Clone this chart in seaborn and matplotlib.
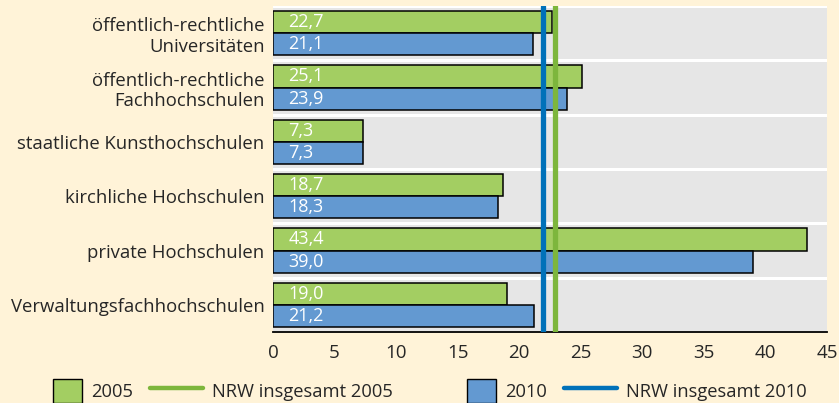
import numpy as np
import pandas as pd
import matplotlib
matplotlib.use('Agg')
import matplotlib.pyplot as plt
import seaborn as sns
from matplotlib.patches import Patch
from matplotlib.lines import Line2D

# Data
categories = ['öffentlich-rechtliche\nUniversitäten',
              'öffentlich-rechtliche\nFachhochschulen',
              'staatliche Kunsthochschulen',
              'kirchliche Hochschulen',
              'private Hochschulen',
              'Verwaltungsfachhochschulen']
values_2005 = [22.7, 25.1, 7.3, 18.7, 43.4, 19.0]
values_2010 = [21.1, 23.9, 7.3, 18.3, 39.0, 21.2]
nrw_2005 = 22.9
nrw_2010 = 21.9
xticks = [0, 5, 10, 15, 20, 25, 30, 35, 40, 45]

green = '#A3CE62'
blue = '#6399D1'
line_green = '#7DB63C'
line_blue = '#0071B9'
cream = '#FFF3D8'

df = pd.DataFrame({
    'Hochschulart': categories * 2,
    'Wert': values_2005 + values_2010,
    'Jahr': ['2005'] * len(categories) + ['2010'] * len(categories),
})

sns.set_style('white')
plt.rcParams['font.family'] = ['Open Sans', 'DejaVu Sans']

fig = plt.figure(figsize=(8.39, 4.03), dpi=100, facecolor=cream)
ax = fig.add_axes([273 / 839, 1 - 332 / 403, (827 - 273) / 839, (332 - 6) / 403])
ax.set_facecolor('#E6E6E6')

sns.barplot(data=df, y='Hochschulart', x='Wert', hue='Jahr', orient='h',
            palette=[green, blue], width=0.82, edgecolor='black',
            linewidth=1.1, saturation=1, legend=False, ax=ax, zorder=2)

# white separators between category bands
for b in np.arange(-0.5, len(categories) + 0.5, 1):
    ax.axhline(b, color='white', lw=2.2, zorder=1)

# value labels inside the bars
for cont in ax.containers:
    for bar in cont:
        w = bar.get_width()
        ax.annotate(f'{w:.1f}'.replace('.', ','),
                    (0, bar.get_y() + bar.get_height() / 2),
                    xytext=(11, 0), textcoords='offset points',
                    ha='left', va='center', color='white', fontsize=13,
                    zorder=4)

ax.axvline(nrw_2010, color=line_blue, lw=3.8, zorder=3)
ax.axvline(nrw_2005, color=line_green, lw=3.8, zorder=3)

ax.set_xlim(0, 45)
ax.set_ylim(len(categories) - 0.5, -0.5)
ax.set_xticks(xticks)
ax.set_xticklabels([str(t) for t in xticks], fontsize=13.5)
ax.set_xlabel('')
ax.set_ylabel('')
for lab in ax.get_yticklabels():
    lab.set_fontsize(13.3)
    lab.set_multialignment('right')
ax.tick_params(axis='x', direction='out', length=6, width=1.3, color='black', pad=3)
ax.tick_params(axis='y', length=0, pad=6)
for side in ['top', 'right', 'left']:
    ax.spines[side].set_visible(False)
ax.spines['bottom'].set_color('black')
ax.spines['bottom'].set_linewidth(1.3)

# legend, placed as four single entries
entries = [
    (53, Patch(facecolor=green, edgecolor='black', linewidth=1), '2005', 1.6),
    (150, Line2D([], [], color=line_green, lw=3.2), 'NRW insgesamt 2005', 2.9),
    (467, Patch(facecolor=blue, edgecolor='black', linewidth=1), '2010', 1.6),
    (564, Line2D([], [], color=line_blue, lw=3.2), 'NRW insgesamt 2010', 2.9),
]
for x0, h, lab, hl in entries:
    fig.legend([h], [lab], loc='center left', bbox_to_anchor=(x0 / 839, 1 - 391 / 403),
               frameon=False, fontsize=13.2, handlelength=hl, handleheight=1.7,
               handletextpad=0.5, borderaxespad=0, borderpad=0)

fig.savefig('out.png', dpi=100, facecolor=cream)
